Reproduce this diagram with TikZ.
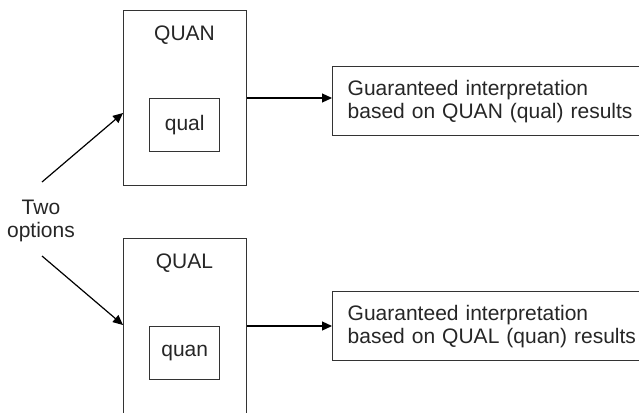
\documentclass[tikz,border=0pt]{standalone}
\usepackage{fontspec}
\setmainfont{Liberation Sans}
\usetikzlibrary{arrows.meta}
\begin{document}
\begin{tikzpicture}[x=1pt,y=-1pt,
  every node/.style={font=\fontsize{21}{23}\selectfont, text=black!85},
  frame/.style={draw=black!80, line width=1.4pt},
  outerbox/.style={frame, minimum width=123pt, minimum height=175pt, anchor=north west, inner sep=0pt},
  innerbox/.style={frame, minimum width=70pt, minimum height=53pt, anchor=north west, inner sep=0pt},
  resultbox/.style={frame, anchor=north west, minimum height=69pt, text width=300pt, align=left, inner xsep=15pt, inner ysep=0pt},
  boxtitle/.style={anchor=base, inner sep=0pt},
  arr/.style={draw=black, line width=1.2pt, -{Triangle[length=10pt,width=9pt]}}
]
\clip (0,0) rectangle (639,412);
\fill[white] (0,0) rectangle (639,412);

% first option: QUAN with embedded qual
\node[outerbox] (quanbox) at (123,10) {};
\node[boxtitle] (quantitle) at (184.5,41) {QUAN};
\node[innerbox] (qualin) at (149,98) {qual};

% second option: QUAL with embedded quan
\node[outerbox] (qualbox) at (123,238) {};
\node[boxtitle] (qualtitle) at (184.5,268) {QUAL};
\node[innerbox] (quanin) at (149,326) {quan};

% interpretations
\node[resultbox] (res1) at (332,66) {Guaranteed interpretation\\based on QUAN (qual) results};
\node[resultbox] (res2) at (332,291) {Guaranteed interpretation\\based on QUAL (quan) results};

% label and its two arrows
\node[align=center, inner sep=0pt] (two) at (41,221) {Two\\options};
\coordinate (s1) at (42,182);
\coordinate (s2) at (42,256);
\draw[arr] (s1) -- (quanbox.west |- 0,113);
\draw[arr] (s2) -- (qualbox.west |- 0,325);

% outputs
\draw[arr] (quanbox.east |- qualin.north) -- (res1.west |- qualin.north);
\draw[arr] (qualbox.east |- quanin.north) -- (res2.west |- quanin.north);
\end{tikzpicture}
\end{document}
